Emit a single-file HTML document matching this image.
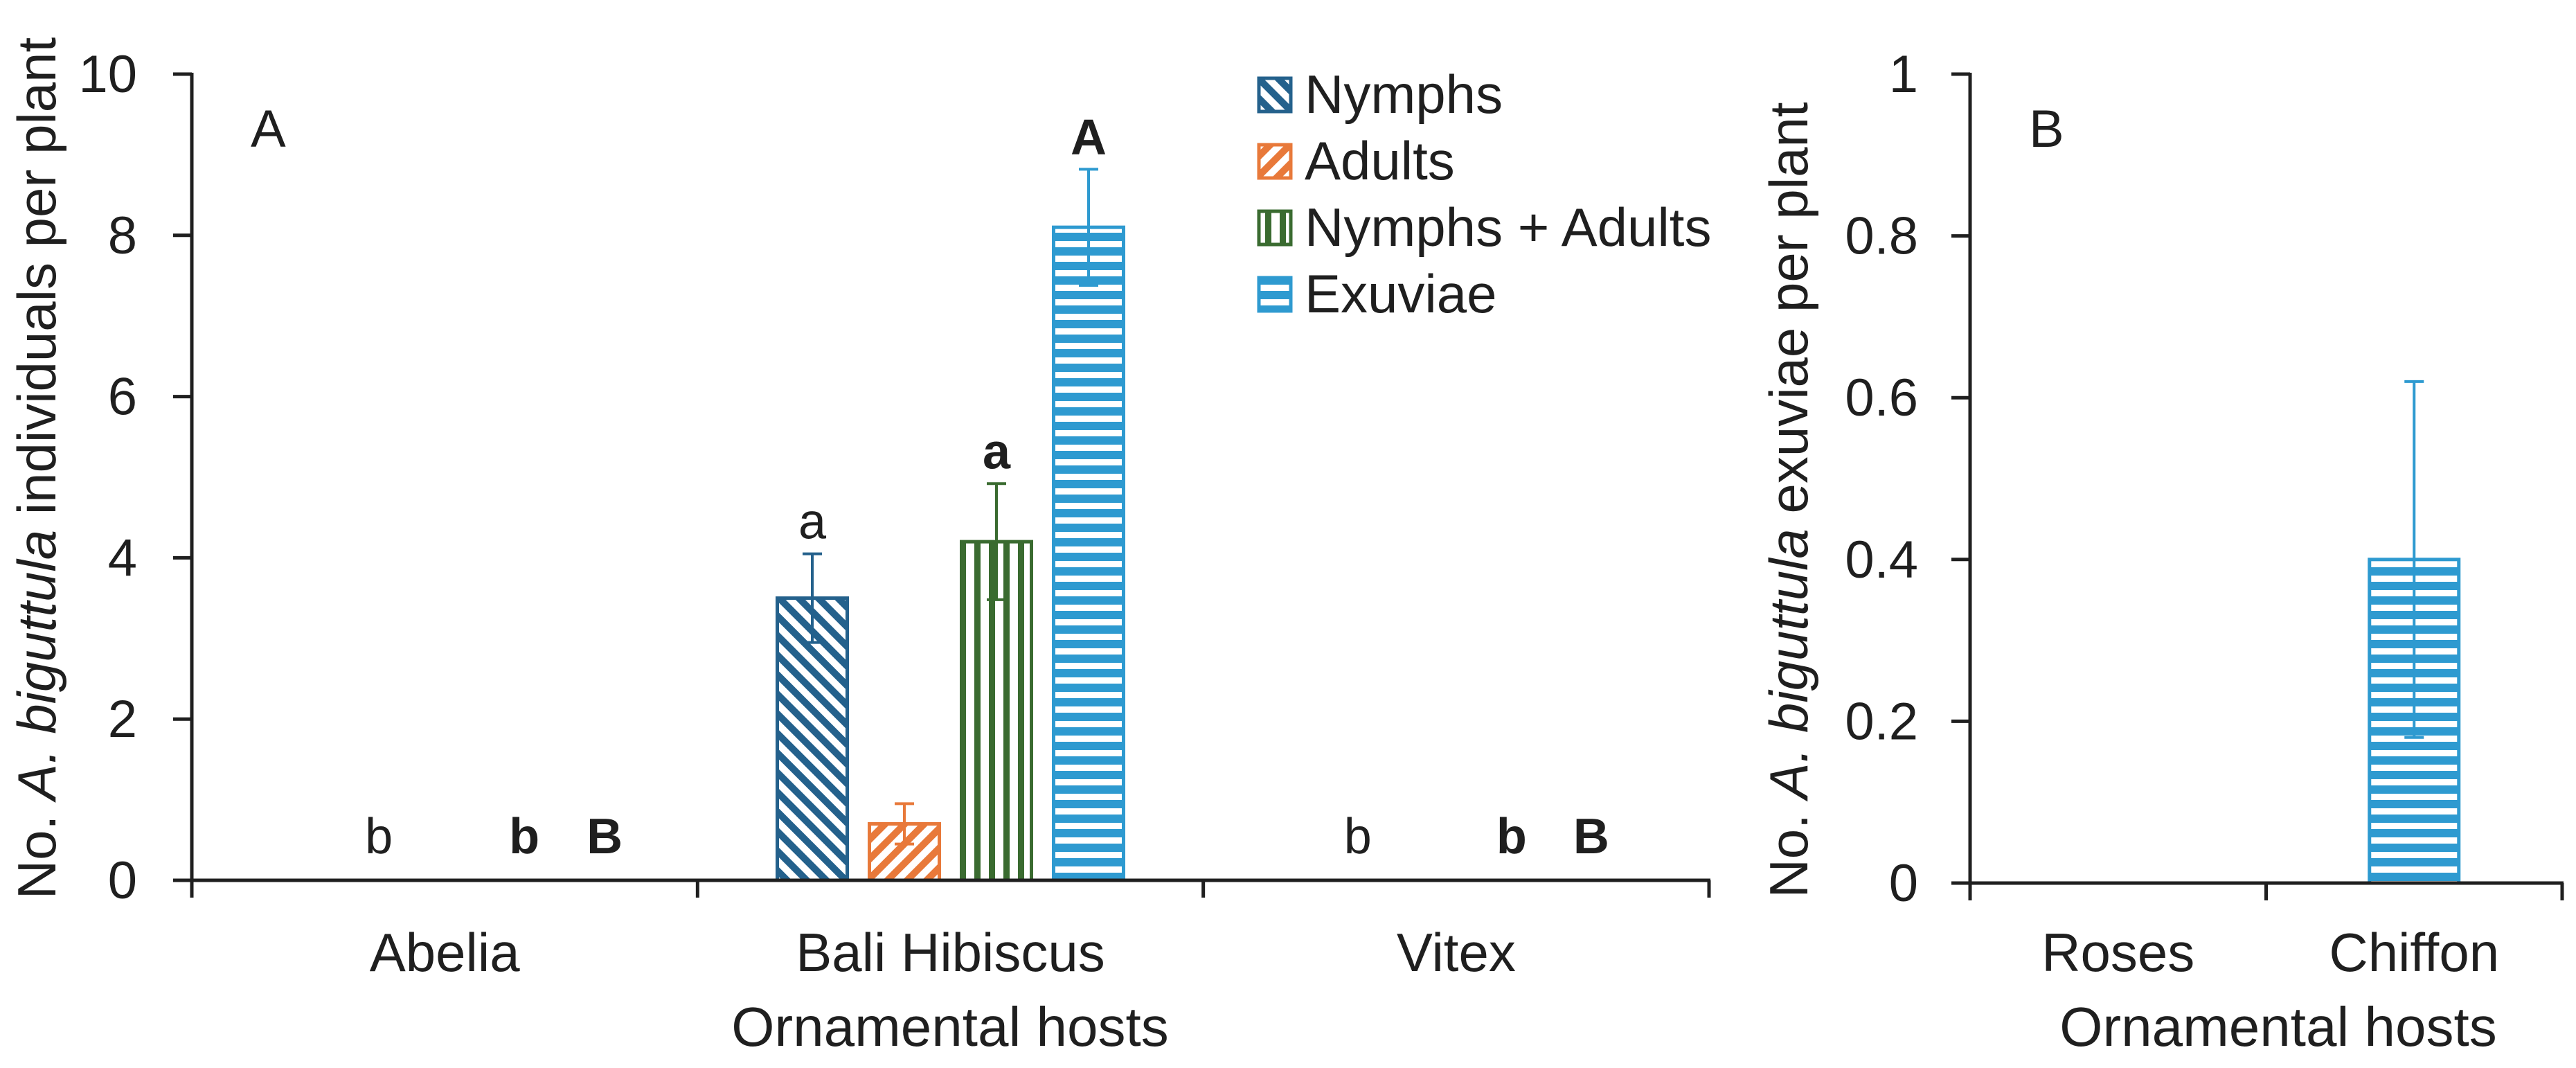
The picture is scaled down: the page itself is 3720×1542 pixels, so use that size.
<!DOCTYPE html>
<html><head><meta charset="utf-8"><style>
html,body{margin:0;padding:0;background:#fff;}
svg{display:block;font-family:"Liberation Sans",sans-serif;}
</style></head><body>
<svg id="chart" width="3720" height="1542" viewBox="0 0 3720 1542" xmlns="http://www.w3.org/2000/svg">
<defs>
<pattern id="pNymph" patternUnits="userSpaceOnUse" width="20" height="20" patternTransform="rotate(-45)"><rect width="20" height="20" fill="#fff"/><rect width="10" height="20" fill="#24618c"/></pattern>
<pattern id="pAdult" patternUnits="userSpaceOnUse" width="20" height="20" patternTransform="rotate(45)"><rect width="20" height="20" fill="#fff"/><rect width="10" height="20" fill="#e8793a"/></pattern>
<pattern id="pNA" patternUnits="userSpaceOnUse" width="21" height="20" x="1386"><rect width="21" height="20" fill="#fff"/><rect width="9" height="20" fill="#3a6b30"/></pattern>
<pattern id="pExu" patternUnits="userSpaceOnUse" width="20" height="21"><rect width="20" height="21" fill="#fff"/><rect width="20" height="12" fill="#2e9ad0"/></pattern>
</defs>
<g id="gA"></g>
<g id="gB"></g>
</svg>
<script>
// Panel A data
const catsA = ["Abelia", "Bali Hibiscus", "Vitex"];
const seriesNames = ["Nymphs", "Adults", "Nymphs + Adults", "Exuviae"];
const nymphs = [0, 3.5, 0];
const adults = [0, 0.7, 0];
const nymphsAdults = [0, 4.2, 0];
const exuviae = [0, 8.1, 0];
const errNymphs = [0, 0.55, 0];
const errAdults = [0, 0.25, 0];
const errNA = [0, 0.72, 0];
const errExu = [0, 0.72, 0];
const ticksA = [0, 2, 4, 6, 8, 10];
// Letters per category: [series index, label, bold]
const lettersA = [
  [[0,"b",false],[2,"b",true],[3,"B",true]],
  [[0,"a",false],[2,"a",true],[3,"A",true]],
  [[0,"b",false],[2,"b",true],[3,"B",true]]
];
// Panel B data
const catsB = ["Roses", "Chiffon"];
const exuB = [0, 0.4];
const errB = [0, 0.22];
const ticksB = [0, 0.2, 0.4, 0.6, 0.8, 1];

// layout offsets (px from category centre) for letters over empty categories
const zeroLetterOffsets = [[-95, 115, 231], null, [-142, 80, 195]];

const NS = "http://www.w3.org/2000/svg";
function mk(parent, tag, attrs, text) {
  const e = document.createElementNS(NS, tag);
  for (const k in attrs) e.setAttribute(k, attrs[k]);
  if (text !== undefined) e.textContent = text;
  parent.appendChild(e);
  return e;
}
const INK = "#1f1f1f";
const fills = ["url(#pNymph)", "url(#pAdult)", "url(#pNA)", "url(#pExu)"];
const strokes = ["#24618c", "#e8793a", "#3a6b30", "#2e9ad0"];

// ---------- Panel A ----------
const gA = document.getElementById("gA");
const A = {x0: 277, x1: 2468, y0: 1271, y1: 107, max: 10};
const yA = v => A.y0 - (v / A.max) * (A.y0 - A.y1);
const bandA = (A.x1 - A.x0) / catsA.length;
const cxA = i => A.x0 + bandA * (i + 0.5);
const barW = 106, barGap = 27;
const barX = (i, s) => cxA(i) - (4 * barW + 3 * barGap) / 2 + s * (barW + barGap);
const valsA = [nymphs, adults, nymphsAdults, exuviae];
const errsA = [errNymphs, errAdults, errNA, errExu];
const errCol = ["#24618c", "#e8793a", "#3a6b30", "#2e9ad0"];

catsA.forEach((c, i) => {
  for (let s = 0; s < 4; s++) {
    const v = valsA[s][i];
    if (v > 0) {
      const r = mk(gA, "rect", {x: barX(i, s) + 2.5, y: yA(v), width: barW - 5, height: yA(0) - yA(v), fill: fills[s], stroke: strokes[s], "stroke-width": 5});
      
      
      const e = errsA[s][i];
      const cx = barX(i, s) + barW / 2;
      const eg = mk(gA, "g", {stroke: errCol[s], "stroke-width": 4, fill: "none"});
      
      
      mk(eg, "line", {x1: cx, x2: cx, y1: yA(v + e), y2: yA(v - e)});
      mk(eg, "line", {x1: cx - 14, x2: cx + 14, y1: yA(v + e), y2: yA(v + e)});
      mk(eg, "line", {x1: cx - 14, x2: cx + 14, y1: yA(v - e), y2: yA(v - e)});
    }
  }
  lettersA[i].forEach(([s, lab, bold], k) => {
    const v = valsA[s][i], e = errsA[s][i];
    let x, y;
    if (v > 0) { x = barX(i, s) + barW / 2; y = yA(v + e) - 22; }
    else { x = cxA(i) + (zeroLetterOffsets[i] ? zeroLetterOffsets[i][k] : 0); y = 1232; }
    const t = mk(gA, "text", {x: x, y: y, "font-size": 72, "text-anchor": "middle", fill: INK, "font-weight": bold ? "bold" : "normal"}, lab);
    
    
  });
  const cl = mk(gA, "text", {x: cxA(i), y: 1402, "font-size": 78, "text-anchor": "middle", fill: INK}, c);
  
  
});
const axA = mk(gA, "g", {stroke: INK, "stroke-width": 5, fill: "none"});


mk(axA, "line", {x1: A.x0, x2: A.x0, y1: A.y1 - 2, y2: 1296});
mk(axA, "line", {x1: 250, x2: A.x1 + 2, y1: A.y0, y2: A.y0});
for (let i = 1; i <= catsA.length; i++) mk(axA, "line", {x1: A.x0 + bandA * i, x2: A.x0 + bandA * i, y1: A.y0, y2: 1296});
ticksA.forEach(t => {
  mk(axA, "line", {x1: 250, x2: A.x0, y1: yA(t), y2: yA(t)});
  const tl = mk(gA, "text", {x: 198, y: yA(t) + 26, "font-size": 76, "text-anchor": "end", fill: INK}, String(t));
  
  
});
</script>
<script>
(function(){
  const gA = document.getElementById("gA");
  const t1 = mk(gA, "text", {x: 1372, y: 1510, "font-size": 80, "text-anchor": "middle", fill: INK}, "Ornamental hosts");
  
  
  const yt = mk(gA, "text", {transform: "translate(80,676) rotate(-90)", "font-size": 78, "text-anchor": "middle", fill: INK});
  
  
  mk(yt, "tspan", {}, "No. ");
  mk(yt, "tspan", {"font-style": "italic"}, "A. biguttula");
  mk(yt, "tspan", {}, " individuals per plant");
  const pl = mk(gA, "text", {x: 362, y: 212, "font-size": 76, fill: INK}, "A");
  
  
  const lg = mk(gA, "g", {});
  
  
  const ly = [163, 259, 355, 451];
  seriesNames.forEach((n, s) => {
    const e = mk(lg, "g", {});
    
    
    mk(e, "rect", {x: 1818, y: ly[s] - 50, width: 46, height: 48, fill: fills[s], stroke: strokes[s], "stroke-width": 5});
    mk(e, "text", {x: 1884, y: ly[s], "font-size": 78, fill: INK}, n);
  });
})();

// ---------- Panel B ----------
(function(){
  const gB = document.getElementById("gB");
  const B = {x0: 2845, x1: 3700, y0: 1275, y1: 107, max: 1};
  const yB = v => B.y0 - (v / B.max) * (B.y0 - B.y1);
  const bandB = (B.x1 - B.x0) / catsB.length;
  const cxB = i => B.x0 + bandB * (i + 0.5);
  const bw = 134;
  catsB.forEach((c, i) => {
    const v = exuB[i];
    if (v > 0) {
      const r = mk(gB, "rect", {x: cxB(i) - bw / 2 + 2.5, y: yB(v), width: bw - 5, height: yB(0) - yB(v), fill: "url(#pExu)", stroke: "#2e9ad0", "stroke-width": 5});
      
      
      const e = errB[i], cx = cxB(i);
      const eg = mk(gB, "g", {stroke: "#2e9ad0", "stroke-width": 4});
      
      
      mk(eg, "line", {x1: cx, x2: cx, y1: yB(v + e), y2: yB(v - e)});
      mk(eg, "line", {x1: cx - 14, x2: cx + 14, y1: yB(v + e), y2: yB(v + e)});
      mk(eg, "line", {x1: cx - 14, x2: cx + 14, y1: yB(v - e), y2: yB(v - e)});
    }
    const cl = mk(gB, "text", {x: cxB(i), y: 1402, "font-size": 78, "text-anchor": "middle", fill: INK}, c);
    
    
  });
  const ax = mk(gB, "g", {stroke: INK, "stroke-width": 5, fill: "none"});
  
  
  mk(ax, "line", {x1: B.x0, x2: B.x0, y1: B.y1 - 2, y2: 1300});
  mk(ax, "line", {x1: 2818, x2: B.x1 + 2, y1: B.y0, y2: B.y0});
  for (let i = 1; i <= catsB.length; i++) mk(ax, "line", {x1: B.x0 + bandB * i, x2: B.x0 + bandB * i, y1: B.y0, y2: 1300});
  ticksB.forEach(t => {
    mk(ax, "line", {x1: 2818, x2: B.x0, y1: yB(t), y2: yB(t)});
    const tl = mk(gB, "text", {x: 2770, y: yB(t) + 26, "font-size": 76, "text-anchor": "end", fill: INK}, String(t));
    
    
  });
  const t1 = mk(gB, "text", {x: 3290, y: 1510, "font-size": 80, "text-anchor": "middle", fill: INK}, "Ornamental hosts");
  
  
  const yt = mk(gB, "text", {transform: "translate(2610,722) rotate(-90)", "font-size": 78, "text-anchor": "middle", fill: INK});
  
  
  mk(yt, "tspan", {}, "No. ");
  mk(yt, "tspan", {"font-style": "italic"}, "A. biguttula");
  mk(yt, "tspan", {}, " exuviae per plant");
  const pl = mk(gB, "text", {x: 2930, y: 212, "font-size": 76, fill: INK}, "B");
  
  
})();
</script>
</body></html>
